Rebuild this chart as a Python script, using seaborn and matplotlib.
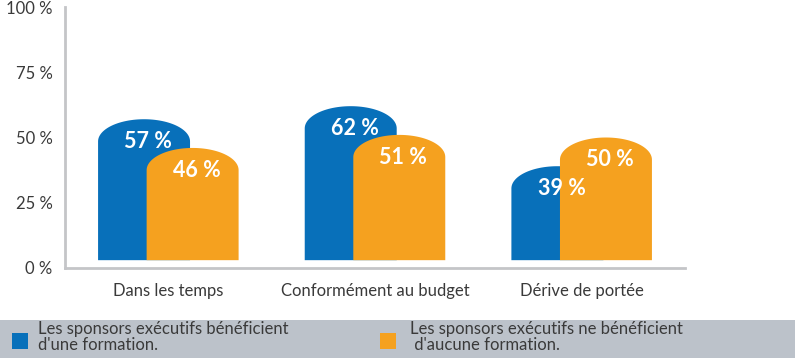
import numpy as np
import pandas as pd
import matplotlib
matplotlib.use('Agg')
import matplotlib.pyplot as plt
from matplotlib.patches import Polygon, Rectangle
import seaborn as sns

# données
categories = ['Dans les temps', 'Conformément au budget', 'Dérive de portée']
series = ["Les sponsors exécutifs bénéficient\nd'une formation.",
          "Les sponsors exécutifs ne bénéficient\n d'aucune formation."]
avec_formation = [57, 62, 39]
sans_formation = [46, 51, 50]
colors = ['#0870BA', '#F5A11F']
yticks = [0, 25, 50, 75, 100]
ytick_labels = ['0 %', '25 %', '50 %', '75 %', '100 %']

df = pd.DataFrame({
    'cat': categories * 2,
    'serie': [series[0]] * 3 + [series[1]] * 3,
    'val': avec_formation + sans_formation,
})

sns.set_style('white')
plt.rcParams['font.family'] = ['Lato', 'DejaVu Sans']
grey = '#C4C5C8'
txt = '#3A3A3A'

fig = plt.figure(figsize=(7.95, 3.58), dpi=100)
ax = fig.add_axes([65 / 795, 1 - 268 / 358, 620 / 795, 261 / 358])

sns.barplot(data=df, x='cat', y='val', hue='serie', palette=colors,
            width=0.47, legend=False, ax=ax, saturation=1)

# remplacer les rectangles par des barres à sommet arrondi
bar_w = 0.445
base = 3
cap = 8.5
rects = list(ax.patches)
for i, r in enumerate(rects):
    cx = r.get_x() + r.get_width() / 2
    top = r.get_height()
    col = r.get_facecolor()
    r.remove()
    t = np.linspace(np.pi, 0, 60)
    xs = cx + bar_w / 2 * np.cos(t)
    ys = top - cap + cap * np.sin(t)
    pts = [(cx - bar_w / 2, base)] + list(zip(xs, ys)) + [(cx + bar_w / 2, base)]
    ax.add_patch(Polygon(pts, closed=True, facecolor=col, edgecolor='none', zorder=2 + i // 3))
    ax.text(cx + 0.02, top - 8.5, f'{top:.0f} %', color='white', fontsize=15.5,
            fontweight='bold', ha='center', va='center', zorder=10)

ax.set_xlim(-0.5, 2.5)
ax.set_ylim(0, 100)
ax.set_xlabel('')
ax.set_ylabel('')

ax.set_yticks(yticks)
ax.set_yticklabels(ytick_labels)
ax.tick_params(axis='y', length=7, width=2, color=grey, labelsize=12, labelcolor=txt, pad=2)

ax.set_xticks([0.5, 1.5, 2.5])
ax.set_xticklabels([])
ax.tick_params(axis='x', which='major', length=7, width=2, color=grey, direction='out')
ax.set_xticks([0, 1, 2], minor=True)
ax.set_xticklabels(categories, minor=True)
ax.tick_params(axis='x', which='minor', length=0, labelsize=12, labelcolor=txt, pad=11)

for s in ['top', 'right']:
    ax.spines[s].set_visible(False)
for s in ['left', 'bottom']:
    ax.spines[s].set_color(grey)
    ax.spines[s].set_linewidth(2)

# légende en bas
fig.patches.append(Rectangle((0, 0), 1, 38 / 358, transform=fig.transFigure,
                             facecolor='#BCC2CA', edgecolor='none', zorder=0))
leg_x = [12, 380]
text_x = [38, 410]
for c, lx, tx, lab in zip(colors, leg_x, text_x, series):
    fig.patches.append(Rectangle((lx / 795, 1 - 349 / 358), 16 / 795, 16 / 358,
                                 transform=fig.transFigure, facecolor=c,
                                 edgecolor='none', zorder=1))
    fig.text(tx / 795, 1 - 337 / 358, lab, fontsize=12, color=txt,
             va='center', ha='left', linespacing=1.0)

fig.savefig('out.png', dpi=100)
